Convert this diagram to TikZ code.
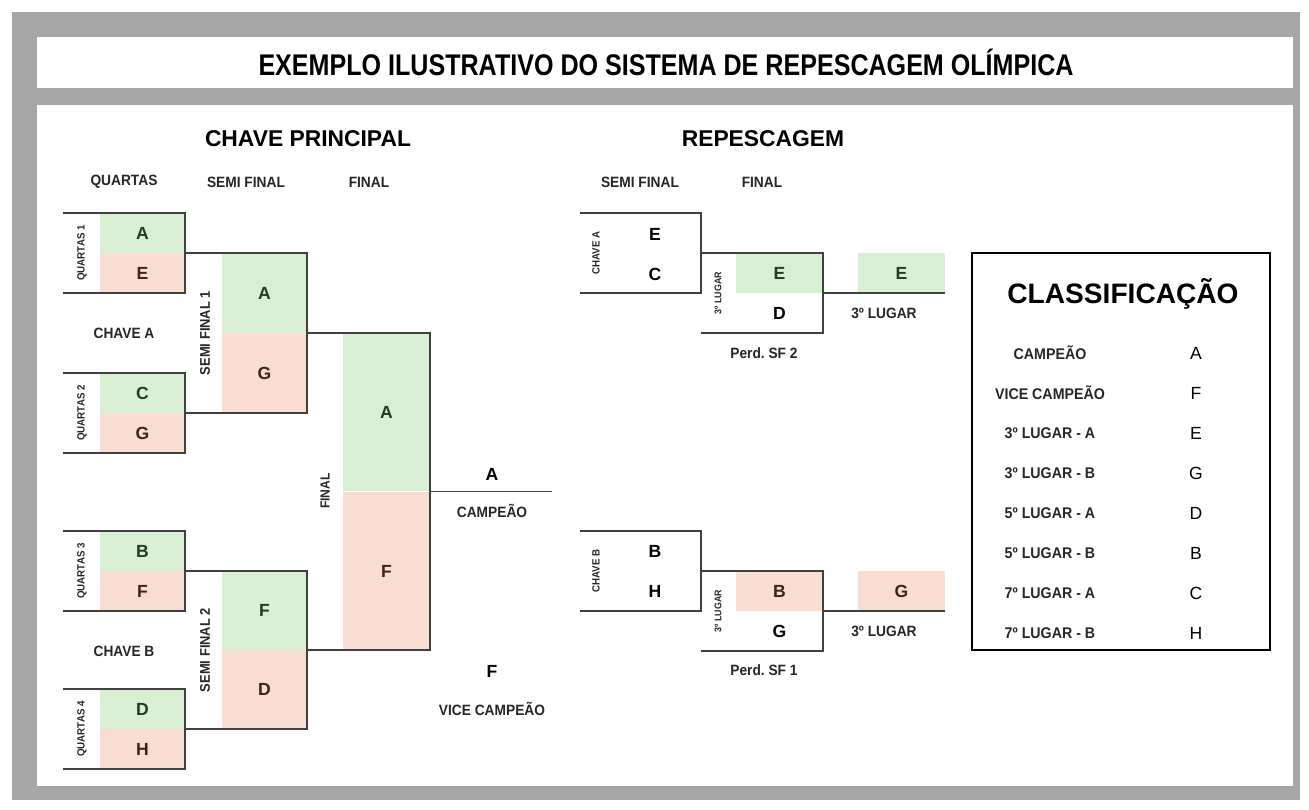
\documentclass[tikz,border=0pt]{standalone}
\usepackage{fontspec}
\setmainfont{Liberation Sans}
\newfontfamily\condfont[FakeStretch=0.92]{Liberation Sans}
\newfontfamily\titlefont[FakeStretch=0.84]{Liberation Sans}
\usetikzlibrary{calc}
\frenchspacing

\definecolor{framegray}{HTML}{A6A6A6}
\definecolor{wingreen}{HTML}{D8EFD3}
\definecolor{losered}{HTML}{FADDD1}
\definecolor{wintext}{HTML}{1E3F1E}
\definecolor{losetext}{HTML}{3F2318}
\definecolor{linegray}{HTML}{404040}

\tikzset{
	cell/.style={inner sep=0pt,font=\bfseries\fontsize{10}{12}\selectfont},
	win/.style={cell,fill=wingreen,text=wintext},
	lose/.style={cell,fill=losered,text=losetext},
	lbl/.style={inner sep=0pt,font=\condfont\bfseries\fontsize{8.5}{10}\selectfont,text=black!85},
	rotlbl/.style={lbl,rotate=90,font=\condfont\bfseries\fontsize{6}{7}\selectfont},
	head/.style={inner sep=0pt,font=\bfseries\fontsize{13}{15}\selectfont},
	brk/.style={draw=linegray,line width=0.7pt},
}

\begin{document}
\begin{tikzpicture}[x=0.02cm,y=-0.02cm]
\useasboundingbox (0,0) rectangle (1309,809);
		% frame
		\fill[white] (0,0) rectangle (1309,809);
		\fill[framegray] (12,12) rectangle (1300,800);
		\fill[white] (37,37) rectangle (1293,88);
		\fill[white] (37,105) rectangle (1293,786);
		\node (title) at (666,62) {\titlefont\bfseries\fontsize{17}{20}\selectfont EXEMPLO ILUSTRATIVO DO SISTEMA DE REPESCAGEM OLÍMPICA};
		% headers
		\node[head] (hmain) at (308,139) {CHAVE PRINCIPAL};
		\node[head] (hrep) at (763,139) {REPESCAGEM};
		\node[lbl] (hq) at (124,182) {QUARTAS};
		\node[lbl] (hsf) at (246,182) {SEMI FINAL};
		\node[lbl] (hf) at (369,182) {FINAL};
		\node[lbl] (hrsf) at (640,182) {SEMI FINAL};
		\node[lbl] (hrf) at (762,182) {FINAL};
		% ----- chave principal -----
		\node[win,minimum width=1.7cm,minimum height=0.8cm] (q1w) at (142.5,233) {A};
		\node[lose,minimum width=1.7cm,minimum height=0.8cm] (q1l) at (142.5,273) {E};
		\node[win,minimum width=1.7cm,minimum height=0.8cm] (q2w) at (142.5,393) {C};
		\node[lose,minimum width=1.7cm,minimum height=0.8cm] (q2l) at (142.5,433) {G};
		\node[win,minimum width=1.7cm,minimum height=0.8cm] (q3w) at (142.5,551) {B};
		\node[lose,minimum width=1.7cm,minimum height=0.8cm] (q3l) at (142.5,591) {F};
		\node[win,minimum width=1.7cm,minimum height=0.8cm] (q4w) at (142.5,709) {D};
		\node[lose,minimum width=1.7cm,minimum height=0.8cm] (q4l) at (142.5,749) {H};
		\node[win,minimum width=1.7cm,minimum height=1.6cm] (sf1w) at (264.5,293) {A};
		\node[lose,minimum width=1.7cm,minimum height=1.6cm] (sf1l) at (264.5,373) {G};
		\node[win,minimum width=1.7cm,minimum height=1.58cm] (sf2w) at (264.5,610.5) {F};
		\node[lose,minimum width=1.7cm,minimum height=1.58cm] (sf2l) at (264.5,689.5) {D};
		\node[win,minimum width=1.74cm,minimum height=3.17cm] (fw) at (386.5,412) {A};
		\node[lose,minimum width=1.74cm,minimum height=3.17cm] (fl) at (386.5,571) {F};
		\coordinate (Q1a) at (63,213);
		\coordinate (Q1b) at (185,213);
		\coordinate (Q1c) at (185,293);
		\coordinate (Q1d) at (63,293);
		\coordinate (Q2a) at (63,373);
		\coordinate (Q2b) at (185,373);
		\coordinate (Q2c) at (185,453);
		\coordinate (Q2d) at (63,453);
		\coordinate (Q3a) at (63,531);
		\coordinate (Q3b) at (185,531);
		\coordinate (Q3c) at (185,611);
		\coordinate (Q3d) at (63,611);
		\coordinate (Q4a) at (63,689);
		\coordinate (Q4b) at (185,689);
		\coordinate (Q4c) at (185,769);
		\coordinate (Q4d) at (63,769);
		\coordinate (S1a) at (185,253);
		\coordinate (S1b) at (307,253);
		\coordinate (S1c) at (307,413);
		\coordinate (S1d) at (185,413);
		\coordinate (S2a) at (185,571);
		\coordinate (S2b) at (307,571);
		\coordinate (S2c) at (307,729);
		\coordinate (S2d) at (185,729);
		\coordinate (Fa) at (307,333);
		\coordinate (Fb) at (430,333);
		\coordinate (Fc) at (430,650);
		\coordinate (Fd) at (307,650);
		\coordinate (Fm) at (430,491.5);
		\coordinate (Ce) at (552,491.5);
		\draw[brk] (Q1a) -- (Q1b) -- (Q1c) -- (Q1d);
		\draw[brk] (Q2a) -- (Q2b) -- (Q2c) -- (Q2d);
		\draw[brk] (Q3a) -- (Q3b) -- (Q3c) -- (Q3d);
		\draw[brk] (Q4a) -- (Q4b) -- (Q4c) -- (Q4d);
		\draw[brk] (S1a) -- (S1b) -- (S1c) -- (S1d);
		\draw[brk] (S2a) -- (S2b) -- (S2c) -- (S2d);
		\draw[brk] (Fa) -- (Fb) -- (Fc) -- (Fd);
		\draw[brk] (Fm) -- (Ce);
		\node[rotlbl] (lq1) at (82,253) {QUARTAS 1};
		\node[rotlbl] (lq2) at (82,413) {QUARTAS 2};
		\node[rotlbl] (lq3) at (82,571) {QUARTAS 3};
		\node[rotlbl] (lq4) at (82,729) {QUARTAS 4};
		\node[rotlbl,font=\condfont\bfseries\fontsize{8}{9}\selectfont] (lsf1) at (205,333) {SEMI FINAL 1};
		\node[rotlbl,font=\condfont\bfseries\fontsize{8}{9}\selectfont] (lsf2) at (205,650) {SEMI FINAL 2};
		\node[rotlbl,font=\condfont\bfseries\fontsize{7.5}{9}\selectfont] (lf) at (325,491) {FINAL};
		\node[lbl] (cha) at (124,333) {CHAVE A};
		\node[lbl] (chb) at (124,651) {CHAVE B};
		\node[cell] (camp) at (492,474) {A};
		\node[lbl] (lcamp) at (492,511) {CAMPEÃO};
		\node[cell] (vice) at (492,671) {F};
		\node[lbl] (lvice) at (492,709) {VICE CAMPEÃO};
		% ----- repescagem -----
		\node[cell] (ra1) at (655,234) {E};
		\node[cell] (ra2) at (655,274) {C};
		\node[win,minimum width=1.74cm,minimum height=0.8cm] (rfa1) at (779.5,273) {E};
		\node[cell] (rfa2) at (779.5,313) {D};
		\node[win,minimum width=1.74cm,minimum height=0.8cm] (rta) at (901.5,273) {E};
		\node[cell] (rb1) at (655,551) {B};
		\node[cell] (rb2) at (655,591) {H};
		\node[lose,minimum width=1.74cm,minimum height=0.8cm] (rfb1) at (779.5,591) {B};
		\node[cell] (rfb2) at (779.5,631) {G};
		\node[lose,minimum width=1.74cm,minimum height=0.8cm] (rtb) at (901.5,591) {G};
		\coordinate (RAa) at (580,213);
		\coordinate (RAb) at (701,213);
		\coordinate (RAc) at (701,293);
		\coordinate (RAd) at (580,293);
		\coordinate (RFa) at (701,253);
		\coordinate (RFb) at (823,253);
		\coordinate (RFc) at (823,333);
		\coordinate (RFd) at (701,333);
		\coordinate (RTa) at (823,293);
		\coordinate (RTb) at (945,293);
		\coordinate (RBa) at (580,531);
		\coordinate (RBb) at (701,531);
		\coordinate (RBc) at (701,611);
		\coordinate (RBd) at (580,611);
		\coordinate (RGa) at (701,571);
		\coordinate (RGb) at (823,571);
		\coordinate (RGc) at (823,651);
		\coordinate (RGd) at (701,651);
		\coordinate (RUa) at (823,611);
		\coordinate (RUb) at (945,611);
		\draw[brk] (RAa) -- (RAb) -- (RAc) -- (RAd);
		\draw[brk] (RFa) -- (RFb) -- (RFc) -- (RFd);
		\draw[brk] (RTa) -- (RTb);
		\draw[brk] (RBa) -- (RBb) -- (RBc) -- (RBd);
		\draw[brk] (RGa) -- (RGb) -- (RGc) -- (RGd);
		\draw[brk] (RUa) -- (RUb);
		\node[rotlbl] (lra) at (596,253) {CHAVE A};
		\node[rotlbl] (lrb) at (596,571) {CHAVE B};
		\node[rotlbl,font=\condfont\bfseries\fontsize{5.5}{6}\selectfont] (lrfa) at (718,293) {3º LUGAR};
		\node[rotlbl,font=\condfont\bfseries\fontsize{5.5}{6}\selectfont] (lrfb) at (718,611) {3º LUGAR};
		\node[lbl] (perd2) at (764,353) {Perd. SF 2};
		\node[lbl] (perd1) at (764,670) {Perd. SF 1};
		\node[lbl] (ta) at (884,313) {3º LUGAR};
		\node[lbl] (tb) at (884,631) {3º LUGAR};
		% ----- classificacao -----
		\draw[line width=1.2pt] (972,253) rectangle (1270,650);
		\node[inner sep=0pt,font=\bfseries\fontsize{16}{19}\selectfont] (class) at (1123,294) {CLASSIFICAÇÃO};
		\node[lbl,font=\condfont\bfseries\fontsize{8.8}{10}\selectfont] (c1) at (1050,353) {CAMPEÃO};
		\node[lbl,font=\condfont\bfseries\fontsize{8.8}{10}\selectfont] (c2) at (1050,393) {VICE CAMPEÃO};
		\node[lbl,font=\condfont\bfseries\fontsize{8.8}{10}\selectfont] (c3) at (1050,433) {3º LUGAR - A};
		\node[lbl,font=\condfont\bfseries\fontsize{8.8}{10}\selectfont] (c4) at (1050,473) {3º LUGAR - B};
		\node[lbl,font=\condfont\bfseries\fontsize{8.8}{10}\selectfont] (c5) at (1050,513) {5º LUGAR - A};
		\node[lbl,font=\condfont\bfseries\fontsize{8.8}{10}\selectfont] (c6) at (1050,553) {5º LUGAR - B};
		\node[lbl,font=\condfont\bfseries\fontsize{8.8}{10}\selectfont] (c7) at (1050,593) {7º LUGAR - A};
		\node[lbl,font=\condfont\bfseries\fontsize{8.8}{10}\selectfont] (c8) at (1050,633) {7º LUGAR - B};
		\node[cell,font=\fontsize{10}{12}\selectfont] (p1) at (1196,353) {A};
		\node[cell,font=\fontsize{10}{12}\selectfont] (p2) at (1196,393) {F};
		\node[cell,font=\fontsize{10}{12}\selectfont] (p3) at (1196,433) {E};
		\node[cell,font=\fontsize{10}{12}\selectfont] (p4) at (1196,473) {G};
		\node[cell,font=\fontsize{10}{12}\selectfont] (p5) at (1196,513) {D};
		\node[cell,font=\fontsize{10}{12}\selectfont] (p6) at (1196,553) {B};
		\node[cell,font=\fontsize{10}{12}\selectfont] (p7) at (1196,593) {C};
		\node[cell,font=\fontsize{10}{12}\selectfont] (p8) at (1196,633) {H};
\end{tikzpicture}
\end{document}
